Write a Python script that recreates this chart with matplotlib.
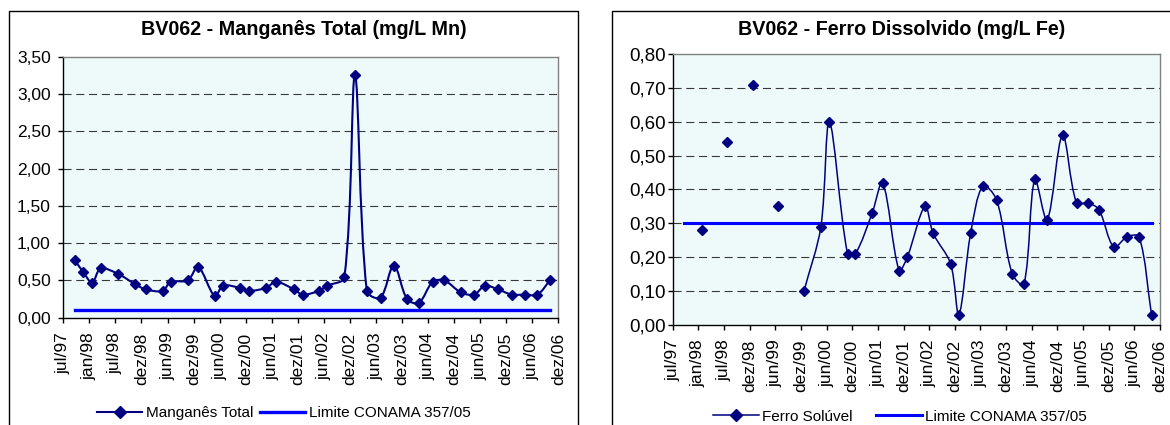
import numpy as np
import matplotlib
matplotlib.use("Agg")
import matplotlib.pyplot as plt
import matplotlib.dates as mdates
from matplotlib.lines import Line2D
from matplotlib.path import Path
from matplotlib.patches import PathPatch
from matplotlib.ticker import FixedLocator, FuncFormatter, MultipleLocator

plt.rcParams["font.family"] = ["Liberation Sans", "DejaVu Sans"]
plt.rcParams["lines.scale_dashes"] = False

# ---- data -------------------------------------------------------------
tick_labels = ["jul/97", "jan/98", "jul/98", "dez/98", "jun/99", "dez/99",
               "jun/00", "dez/00", "jun/01", "dez/01", "jun/02", "dez/02",
               "jun/03", "dez/03", "jun/04", "dez/04", "jun/05", "dez/05",
               "jun/06", "dez/06"]
axis_start = "1997-07-01"
axis_end = "2006-12-01"

mn_dates = ["1997-09-20", "1997-11-17", "1998-01-18", "1998-03-17", "1998-07-14",
            "1998-11-12", "1999-01-24", "1999-05-23", "1999-07-16", "1999-11-13",
            "2000-01-24", "2000-05-19", "2000-07-16", "2000-11-09", "2001-01-13",
            "2001-05-09", "2001-07-19", "2001-11-21", "2002-01-19", "2002-05-13",
            "2002-07-09", "2002-11-05", "2003-01-18", "2003-04-10", "2003-07-15",
            "2003-10-15", "2004-01-15", "2004-04-06", "2004-07-11", "2004-09-30",
            "2005-01-22", "2005-04-25", "2005-07-10", "2005-10-07", "2006-01-12",
            "2006-04-13", "2006-07-09", "2006-10-04"]
mn_total = [0.77, 0.61, 0.47, 0.66, 0.59, 0.45, 0.38, 0.36, 0.48, 0.50,
            0.68, 0.29, 0.43, 0.40, 0.36, 0.40, 0.48, 0.38, 0.31, 0.36,
            0.43, 0.54, 3.25, 0.36, 0.27, 0.70, 0.25, 0.20, 0.48, 0.50,
            0.34, 0.31, 0.43, 0.38, 0.31, 0.31, 0.31, 0.50]
mn_limit = 0.10

fe_dates = ["1998-01-21", "1998-07-21", "1999-01-17", "1999-07-16", "2000-01-14",
            "2000-05-12", "2000-07-11", "2000-11-16", "2001-01-11", "2001-05-09",
            "2001-07-22", "2001-11-15", "2002-01-12", "2002-05-17", "2002-07-14",
            "2002-11-14", "2003-01-11", "2003-04-04", "2003-06-29", "2003-10-04",
            "2004-01-23", "2004-04-15", "2004-06-30", "2004-09-25", "2005-01-12",
            "2005-04-21", "2005-07-12", "2005-09-26", "2006-01-09", "2006-04-13",
            "2006-07-07", "2006-10-02"]
fe_soluvel = [0.28, 0.54, 0.71, 0.35, 0.10, 0.29, 0.60, 0.21, 0.21, 0.33,
              0.42, 0.16, 0.20, 0.35, 0.27, 0.18, 0.03, 0.27, 0.41, 0.37,
              0.15, 0.12, 0.43, 0.31, 0.56, 0.36, 0.36, 0.34, 0.23, 0.26,
              0.26, 0.03]
fe_first_joined = 4  # earlier samples are isolated (gaps in the series)
fe_limit = 0.30

NAVY = "#000080"
BLUE = "#0000FF"
PLOT_BG = "#EEFAFA"

W, H = 1170, 425


def fx(px):
    return px / W


def fy(py):
    return 1 - py / H


def smooth_path(ax, x, y):
    """Smoothed line through every point: cubic Bezier segments whose
    control arms are scaled by the neighbouring segment lengths on screen."""
    P = ax.transData.transform(np.column_stack([x, y]))
    n = len(P)
    verts = [P[0]]
    codes = [Path.MOVETO]
    for i in range(n - 1):
        p0 = P[i - 1] if i > 0 else P[i]
        p1, p2 = P[i], P[i + 1]
        p3 = P[i + 2] if i + 2 < n else P[i + 1]
        d01 = np.hypot(*(p1 - p0))
        d12 = np.hypot(*(p2 - p1))
        d23 = np.hypot(*(p3 - p2))
        f1 = d12 / (d01 + d12) if d01 + d12 > 0 else 0.0
        f2 = d12 / (d12 + d23) if d12 + d23 > 0 else 0.0
        c1 = p1 + (p2 - p0) * f1 / 3
        c2 = p2 - (p3 - p1) * f2 / 3
        verts += [c1, c2, p2]
        codes += [Path.CURVE4] * 3
    verts = ax.transData.inverted().transform(np.array(verts))
    return Path(verts, codes)


def to_num(dates):
    return mdates.datestr2num(dates)


fig = plt.figure(figsize=(W / 100, H / 100), dpi=100)

# outer chart frames
frame_kw = dict(color="black", lw=1.0, transform=fig.transFigure)
fig.add_artist(Line2D([fx(9.3), fx(9.3), fx(577.7), fx(577.7)],
                      [0, fy(10.7), fy(10.7), 0], **frame_kw))
fig.add_artist(Line2D([fx(612.3), fx(612.3), 1.0],
                      [0, fy(10.7), fy(10.7)], **frame_kw))

x0, x1 = to_num([axis_start, axis_end])
tick_pos = np.linspace(x0, x1, len(tick_labels))


def style_axes(ax, ymax, ystep, ysize, ypad):
    ax.set_facecolor(PLOT_BG)
    ax.set_xlim(x0, x1)
    ax.set_ylim(0, ymax)
    ax.xaxis.set_major_locator(FixedLocator(tick_pos))
    ax.set_xticklabels(tick_labels, rotation=90, fontsize=12.5)
    ax.yaxis.set_major_locator(MultipleLocator(ystep))
    ax.yaxis.set_major_formatter(FuncFormatter(lambda v, p: f"{v:.2f}".replace(".", ",")))
    ax.tick_params(axis="y", labelsize=ysize, length=3.6, width=1.0, pad=ypad, direction="out")
    ax.tick_params(axis="x", length=3.6, width=1.0, pad=7, direction="out")
    for s in ("left", "bottom"):
        ax.spines[s].set_color("black")
        ax.spines[s].set_linewidth(1.0)
    for s in ("top", "right"):
        ax.spines[s].set_color("#808080")
        ax.spines[s].set_linewidth(1.0)
    for v in np.arange(ystep, ymax - ystep / 2, ystep):
        ax.axhline(v, color="#383838", lw=0.8, ls=(0, (5.8, 3.4)), zorder=1)


# ---- Manganês total ----------------------------------------------------
ax1 = fig.add_axes([fx(63.3), fy(317.7), fx(495), 261 / H])
style_axes(ax1, 3.5, 0.5, 12.5, 5.5)
mx = to_num(mn_dates)
ax1.add_patch(PathPatch(smooth_path(ax1, mx, mn_total), facecolor="none",
                        edgecolor=NAVY, lw=1.5, zorder=3))
ax1.plot(mx, mn_total, ls="none", marker="D", ms=5.6, color=NAVY, zorder=4)
ax1.plot([mx[0], mx[-1]], [mn_limit, mn_limit], color=BLUE, lw=2.4, zorder=3)

# ---- Ferro dissolvido --------------------------------------------------
ax2 = fig.add_axes([fx(672.7), fy(324.7), fx(487.3), 270.4 / H])
style_axes(ax2, 0.8, 0.1, 13.5, 1.5)
fxd = to_num(fe_dates)
ax2.plot([mx[0], mx[-1]], [fe_limit, fe_limit], color=BLUE, lw=2.2, zorder=3)
ax2.add_patch(PathPatch(smooth_path(ax2, fxd[fe_first_joined:], fe_soluvel[fe_first_joined:]),
                        facecolor="none", edgecolor=NAVY, lw=1.1, zorder=3))
ax2.plot(fxd, fe_soluvel, ls="none", marker="D", ms=5.0, color=NAVY, zorder=4)

# titles
fig.text(fx(304.2), fy(35), "BV062 - Manganês Total (mg/L Mn)", ha="center",
         va="baseline", fontsize=14.2, fontweight="bold")
fig.text(fx(902), fy(35), "BV062 - Ferro Dissolvido (mg/L Fe)", ha="center",
         va="baseline", fontsize=14.2, fontweight="bold")

# legends
h_mn = Line2D([], [], color=NAVY, lw=1.5, marker="D", ms=6.5)
h_fe = Line2D([], [], color=NAVY, lw=1.1, marker="D", ms=6.5)
h_lim1 = Line2D([], [], color=BLUE, lw=2.4)
h_lim2 = Line2D([], [], color=BLUE, lw=2.2)
fig.legend([h_mn, h_lim1], ["Manganês Total", "Limite CONAMA 357/05"],
           loc="center", bbox_to_anchor=(fx(284), fy(413.3)), ncol=2, frameon=False,
           fontsize=11, handlelength=2.95, handletextpad=0.26, columnspacing=0.4,
           borderpad=0, borderaxespad=0)
fig.legend([h_fe, h_lim2], ["Ferro Solúvel", "Limite CONAMA 357/05"],
           loc="center", bbox_to_anchor=(fx(900), fy(416.7)), ncol=2, frameon=False,
           fontsize=11, handlelength=3.0, handletextpad=0.2, columnspacing=1.57,
           borderpad=0, borderaxespad=0)

fig.savefig("out.png", dpi=100)
